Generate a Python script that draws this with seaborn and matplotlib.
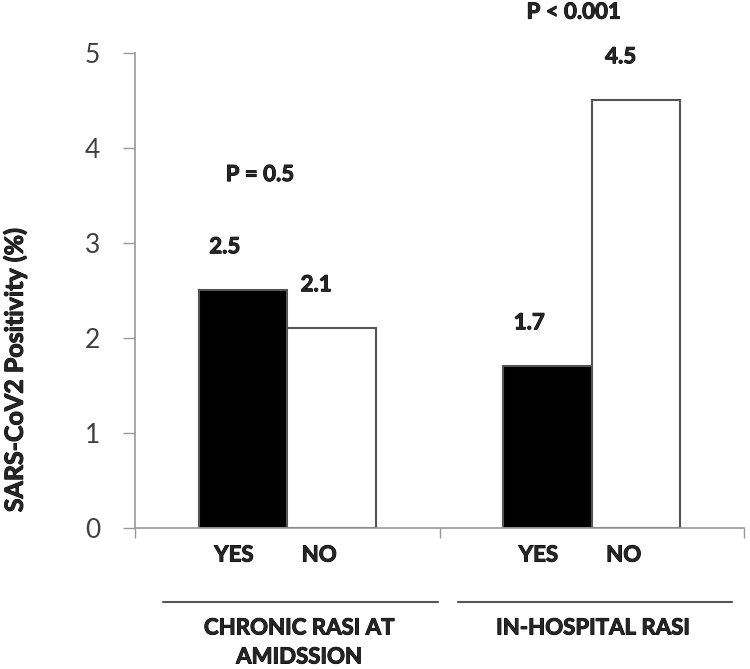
import matplotlib
matplotlib.use("Agg")
import matplotlib.pyplot as plt
import matplotlib.transforms as mtransforms
import matplotlib.patheffects as pe
import seaborn as sns
import pandas as pd

groups = ["CHRONIC RASI AT\nAMIDSSION", "IN-HOSPITAL RASI"]
answers = ["YES", "NO"]
yes_values = [2.5, 1.7]
no_values = [2.1, 4.5]
p_values = ["P = 0.5", "P < 0.001"]
y_ticks = [0, 1, 2, 3, 4, 5]

rows = []
for g, y, n in zip(groups, yes_values, no_values):
    rows.append({"group": g, "answer": "YES", "value": y})
    rows.append({"group": g, "answer": "NO", "value": n})
df = pd.DataFrame(rows)

sns.set_style("white")
plt.rcParams["font.family"] = ["Lato", "DejaVu Sans"]
W = "bold"
FS = 16
PE = [pe.withStroke(linewidth=0.7, foreground="black")]

fig = plt.figure(figsize=(7.5, 6.69), dpi=100)
ax = fig.add_axes([0.18, 0.2108, 0.812, 0.71])

sns.barplot(data=df, x="group", y="value", hue="answer", order=groups,
            hue_order=answers, palette={"YES": "black", "NO": "white"},
            edgecolor="#555555", linewidth=1.5, width=0.58, legend=False,
            ax=ax, saturation=1)

ax.set_xlim(-0.5, 1.5)
ax.set_ylim(0, 5)
ax.set_yticks(y_ticks)
ax.set_yticklabels([str(t) for t in y_ticks], fontsize=19, color="#404040")
ax.set_xticks([-0.5, 0.5, 1.5])
ax.set_xticklabels([])
ax.tick_params(axis="y", direction="out", length=9, width=1, color="#999999",
               left=True, pad=16)
ax.tick_params(axis="x", direction="out", length=7.5, width=1, color="#999999",
               bottom=True)
ax.set_xlabel("")
ax.set_ylabel("")
for s in ["top", "right"]:
    ax.spines[s].set_visible(False)
for s in ["left", "bottom"]:
    ax.spines[s].set_color("#999999")
    ax.spines[s].set_linewidth(1.2)


def btext(x, y, s, **kw):
    return ax.text(x, y, s, fontsize=kw.pop("fontsize", FS), fontweight=W,
                   path_effects=PE, clip_on=False, **kw)


bw = 0.29
trans = mtransforms.blended_transform_factory(ax.transData, ax.transAxes)
for i, (yv, nv, p) in enumerate(zip(yes_values, no_values, p_values)):
    xy = i - bw / 2
    xn = i + bw / 2
    btext(xy - 0.06, yv + 0.46, f"{yv}", ha="center", va="center")
    btext(xn - 0.05, nv + 0.46, f"{nv}", ha="center", va="center")
    btext(xy - 0.03, -0.057, "YES", transform=trans, ha="center", va="center")
    btext(xn - 0.04, -0.057, "NO", transform=trans, ha="center", va="center")

btext(-0.09, 3.72, p_values[0], ha="center", va="center")
btext(0.94, 5.43, p_values[1], ha="center", va="center")

# group bracket lines and labels
ax.plot([-0.408, 0.494], [-0.156, -0.156], transform=trans, color="#555555",
        lw=1.5, clip_on=False)
ax.plot([0.561, 1.461], [-0.156, -0.156], transform=trans, color="#555555",
        lw=1.5, clip_on=False)
g0_lines = groups[0].split("\n")
btext(0.039, -0.2105, g0_lines[0], transform=trans, ha="center", va="center")
btext(0.039, -0.2716, g0_lines[1], transform=trans, ha="center", va="center")
btext(1.004, -0.2105, groups[1], transform=trans, ha="center", va="center")

fig.text(0.02, 0.447, "SARS-CoV2 Positivity (%)", rotation=90, ha="center",
         va="center", fontsize=18, fontweight=W, path_effects=PE)

fig.savefig("out.png", dpi=100, facecolor="white")
